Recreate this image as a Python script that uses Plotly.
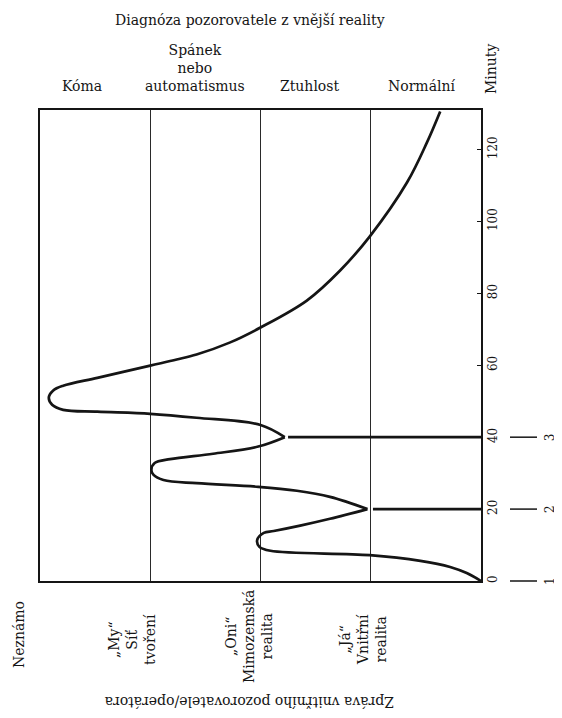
import plotly.graph_objects as go

# ---------------- data ----------------
# horizontal scale: 0 = left edge (Kóma) ... 4 = right edge (Normální); bands are 1 unit wide
state_labels = ["Kóma", "Spánek<br>nebo<br>automatismus", "Ztuhlost", "Normální"]
report_labels = ["Neznámo", "„My“<br>Síť<br>tvoření", "„Oni“<br>Mimozemská<br>realita",
                 "„Já“<br>Vnitřní<br>realita"]
minute_ticks = [0, 20, 40, 60, 80, 100, 120]
event_minutes = [0, 20, 40]
event_labels = ["1", "2", "3"]

# segment 1: start (minute 0) -> first return (minute 20)
seg1_state = [4.0, 3.87, 3.72, 3.45, 2.99, 2.09, 1.99, 1.97, 2.03, 2.12, 2.36, 2.63, 2.97]
seg1_min = [0.0, 2.2, 3.9, 5.6, 7.2, 8.4, 9.5, 11.4, 13.4, 13.9, 15.4, 17.3, 20.0]
# segment 2: minute 20 -> second return (minute 40)
seg2_state = [2.97, 2.63, 2.33, 1.98, 1.42, 1.12, 1.03, 1.01, 1.04, 1.18, 1.57, 1.98, 2.22]
seg2_min = [20.0, 23.4, 25.1, 26.2, 27.2, 28.1, 29.5, 30.9, 32.8, 33.9, 35.4, 37.4, 40.0]
# segment 3: minute 40 -> deep state -> slow recovery
seg3_state = [2.22, 2.0, 1.42, 1.0, 0.52, 0.21, 0.11, 0.08, 0.12, 0.21, 0.52, 1.0, 1.24,
              1.42, 1.72, 2.0, 2.42, 2.72, 2.99, 3.33, 3.51, 3.63]
seg3_min = [40.0, 43.4, 45.4, 46.5, 47.1, 47.6, 49.0, 51.0, 53.0, 54.3, 56.5, 59.9, 61.6,
            63.0, 66.3, 70.5, 78.0, 86.3, 95.8, 110.9, 122.0, 130.6]
# horizontal "return" lines
branch_min = [20, 40]
branch_state_start = [3.02, 2.25]

Y_MAX = 131
INK = "#151515"
FONT = "DejaVu Serif"

# ---------------- figure ----------------
fig = go.Figure()
for xs, ys in [(seg1_state, seg1_min), (seg2_state, seg2_min), (seg3_state, seg3_min)]:
    fig.add_trace(go.Scatter(x=xs, y=ys, mode="lines",
                             line=dict(color=INK, width=2.7, shape="spline", smoothing=1.0),
                             hoverinfo="skip"))
for t, u0 in zip(branch_min, branch_state_start):
    fig.add_trace(go.Scatter(x=[u0, 4.2], y=[t, t], mode="lines",
                             line=dict(color=INK, width=2.7), hoverinfo="skip"))

# page offset of the figure inside the browser (default body margin)
OFF = 8
W, H = 562 - OFF, 718 - OFF
# plot-area edges in screen pixels
L, R, T, B = 40, 481, 110, 581


def px(x):
    return (x - L) / (R - L)


def py(y):
    return (B - y) / (B - T)


def note(text, x, y, yref="paper", angle=0, size=14, xa="center", ya="middle"):
    return dict(text=text, x=x, y=y, xref="paper", yref=yref, textangle=angle,
                xanchor=xa, yanchor=ya, showarrow=False,
                font=dict(family=FONT, size=size, color=INK))


annotations = []
annotations.append(note("Diagnóza pozorovatele z vnější reality", px(250), py(20)))
for lab, cx in zip(state_labels, [82, 195, 309, 421]):
    annotations.append(note(lab, px(cx), py(96), ya="bottom"))
annotations.append(note("Minuty", px(491), py(69), angle=-90))
for lab, (cx, cy) in zip(report_labels, [(19, 635), (132, 640), (249, 637), (363, 640)]):
    annotations.append(note(lab, px(cx), py(cy), angle=-90))
annotations.append(note("Zpráva vnitřního pozorovatele/operátora", px(250), py(702), angle=180))

shapes = []
for t, lab in zip(event_minutes, event_labels):
    annotations.append(note(lab, px(550), t, yref="y", angle=-90, size=12))
    shapes.append(dict(type="line", xref="paper", yref="paper",
                       x0=px(510), x1=px(537), y0=t / Y_MAX, y1=t / Y_MAX,
                       line=dict(color=INK, width=1.5)))

fig.update_layout(
    width=W, height=H,
    margin=dict(l=L - OFF, r=W - (R - OFF), t=T - OFF, b=H - (B - OFF)),
    paper_bgcolor="white", plot_bgcolor="white",
    showlegend=False,
    font=dict(family=FONT, size=14, color=INK),
    annotations=annotations, shapes=shapes,
)
fig.update_xaxes(range=[0, 4], tickvals=[1, 2, 3], showticklabels=False, ticks="",
                 showgrid=True, gridcolor="#2a2a2a", gridwidth=1, zeroline=False,
                 showline=True, mirror=True, linecolor=INK, linewidth=1.5, fixedrange=True)
fig.update_yaxes(range=[0, Y_MAX], side="right", tickvals=minute_ticks, ticks="inside",
                 ticklen=4, tickcolor=INK, tickwidth=1.2, tickangle=-90,
                 tickfont=dict(family=FONT, size=12, color=INK),
                 showgrid=False, zeroline=False, showline=True, mirror=True,
                 linecolor=INK, linewidth=1.5, fixedrange=True)

fig.write_html("out.html")
